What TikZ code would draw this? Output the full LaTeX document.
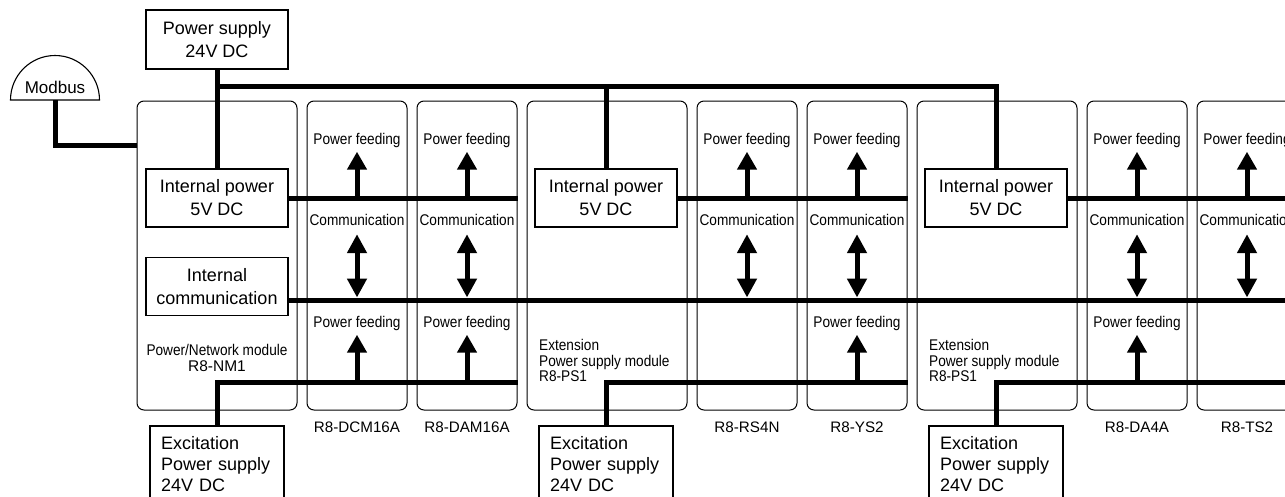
\documentclass[tikz,border=0pt]{standalone}
\usepackage{fontspec}
\setmainfont{Liberation Sans}
\newfontfamily\narrowfont[FakeStretch=0.88]{Liberation Sans}
\usetikzlibrary{arrows.meta}

\begin{document}
\begin{tikzpicture}[x=1pt, y=-1pt]
\tikzset{ModuleStyle/.style = {draw, rounded corners=7pt, line width=1pt, minimum height=309pt, inner sep=0pt},
  BoxStyle/.style = {draw, line width=1.1pt, align=center, inner sep=0pt, font=\fontsize{18}{23}\selectfont},
  ExciteStyle/.style = {draw, line width=1.1pt, align=left, text width=112pt, inner xsep=11pt, minimum height=76pt, font=\fontsize{18}{21}\selectfont},
  BusStyle/.style = {line width=5pt},
  FeedStyle/.style = {line width=5pt, -{Triangle[width=19pt, length=18pt]}, shorten >=3pt},
  TalkStyle/.style = {line width=5pt, {Triangle[width=19pt, length=19pt]}-{Triangle[width=19pt, length=19pt]}, shorten <=4.5pt, shorten >=2.5pt},
  NoteStyle/.style = {inner sep=1.5pt, text height=11pt, text depth=3pt, font=\narrowfont\fontsize{15.5}{16}\selectfont},
  TagStyle/.style = {inner sep=0pt, font=\fontsize{15.2}{18}\selectfont}
}
   \useasboundingbox (0,0) rectangle (1285,496);

   % Modules
   \node[ModuleStyle, minimum width=160pt] (nm1) at (217,255.5) {};
   \node[ModuleStyle, minimum width=100pt] (dcm) at (357,255.5) {};
   \node[ModuleStyle, minimum width=100pt] (dam) at (467,255.5) {};
   \node[ModuleStyle, minimum width=160pt] (psa) at (607,255.5) {};
   \node[ModuleStyle, minimum width=100pt] (rsn) at (747,255.5) {};
   \node[ModuleStyle, minimum width=100pt] (ysb) at (857,255.5) {};
   \node[ModuleStyle, minimum width=160pt] (psb) at (997,255.5) {};
   \node[ModuleStyle, minimum width=100pt] (dac) at (1137,255.5) {};
   \node[ModuleStyle, minimum width=100pt] (tsc) at (1247,255.5) {};

   \node[TagStyle] (dcmtag) at (357,427) {R8-DCM16A};
   \node[TagStyle] (damtag) at (467,427) {R8-DAM16A};
   \node[TagStyle] (rsntag) at (747,427) {R8-RS4N};
   \node[TagStyle] (ysbtag) at (857,427) {R8-YS2};
   \node[TagStyle] (dactag) at (1137,427) {R8-DA4A};
   \node[TagStyle] (tsctag) at (1247,427) {R8-TS2};

   \node[TagStyle, align=center, font=\fontsize{15.5}{16.5}\selectfont] (nm1txt) at (217,358) {{\narrowfont Power/Network module}\\R8-NM1};
   \node[TagStyle, anchor=west, align=left, font=\narrowfont\fontsize{15.5}{15.5}\selectfont] (psatxt) at (539,360.5) {Extension\\Power supply module\\R8-PS1};
   \node[TagStyle, anchor=west, align=left, font=\narrowfont\fontsize{15.5}{15.5}\selectfont] (psbtxt) at (929,360.5) {Extension\\Power supply module\\R8-PS1};

   % Boxes
   \node[BoxStyle, minimum width=142pt, minimum height=59pt] (psu) at (217,39.5) {Power supply\\24V DC};
   \node[BoxStyle, minimum width=142pt, minimum height=58pt] (ipw1) at (217,198) {Internal power\\5V DC};
   \node[BoxStyle, minimum width=142pt, minimum height=58pt] (icom) at (217,286.5) {Internal\\communication};
   \node[BoxStyle, minimum width=142pt, minimum height=58pt] (ipw2) at (606,198) {Internal power\\5V DC};
   \node[BoxStyle, minimum width=142pt, minimum height=58pt] (ipw3) at (996,198) {Internal power\\5V DC};

   \node[ExciteStyle] (exc1) at (217,464) {Excitation\\Power supply\\24V DC};
   \node[ExciteStyle] (exc2) at (606,464) {Excitation\\Power supply\\24V DC};
   \node[ExciteStyle] (exc3) at (996,464) {Excitation\\Power supply\\24V DC};

   % Modbus
   \coordinate (mbase) at (55,100);
   \draw[line width=1.1pt] (99.5,100) arc[start angle=0, end angle=180, radius=44.5pt] -- cycle;
   \node[inner sep=0pt, font=\fontsize{17}{20}\selectfont] (modbus) at (55,87) {Modbus};
   \coordinate (mbin) at (nm1.west |- 0,145);
   \draw[BusStyle] (mbase) |- (mbin);

   % Lines
   \coordinate (topbus) at (0,86);
   \coordinate (combus) at (icom.east |- 0,300);
   \coordinate (exbus) at (0,382);
   \coordinate (farright) at (1295,0);
   \draw[BusStyle] (psu.south) -- (ipw1.north);
   \draw[BusStyle] (psu.south |- topbus) -| (ipw3.north);
   \draw[BusStyle] (ipw2.north |- topbus) -- (ipw2.north);

   \draw[BusStyle] (ipw1.east) -- (ipw1.east -| dam.east);
   \draw[BusStyle] (ipw2.east) -- (ipw2.east -| ysb.east);
   \draw[BusStyle] (ipw3.east) -- (ipw3.east -| farright);
   \draw[BusStyle] (combus) -- (combus -| farright);
   \draw[BusStyle] (exc1.north) |- (exbus -| dam.east);
   \draw[BusStyle] (exc2.north) |- (exbus -| ysb.east);
   \draw[BusStyle] (exc3.north) |- (exbus -| farright);

   % Feeding and communication
   \node[NoteStyle] (dcmfa) at (357,140) {Power feeding};
   \node[NoteStyle] (dcmtalk) at (357,221) {Communication};
   \node[NoteStyle] (dcmfb) at (357,323) {Power feeding};
   \draw[FeedStyle] (dcmfa.south |- ipw1.east) -- (dcmfa.south);
   \draw[TalkStyle] (dcmtalk.south) -- (dcmtalk.south |- combus);
   \draw[FeedStyle] (dcmfb.south |- exbus) -- (dcmfb.south);

   \node[NoteStyle] (damfa) at (467,140) {Power feeding};
   \node[NoteStyle] (damtalk) at (467,221) {Communication};
   \node[NoteStyle] (damfb) at (467,323) {Power feeding};
   \draw[FeedStyle] (damfa.south |- ipw1.east) -- (damfa.south);
   \draw[TalkStyle] (damtalk.south) -- (damtalk.south |- combus);
   \draw[FeedStyle] (damfb.south |- exbus) -- (damfb.south);

   \node[NoteStyle] (rsnfa) at (747,140) {Power feeding};
   \node[NoteStyle] (rsntalk) at (747,221) {Communication};
   \draw[FeedStyle] (rsnfa.south |- ipw2.east) -- (rsnfa.south);
   \draw[TalkStyle] (rsntalk.south) -- (rsntalk.south |- combus);

   \node[NoteStyle] (ysbfa) at (857,140) {Power feeding};
   \node[NoteStyle] (ysbtalk) at (857,221) {Communication};
   \node[NoteStyle] (ysbfb) at (857,323) {Power feeding};
   \draw[FeedStyle] (ysbfa.south |- ipw2.east) -- (ysbfa.south);
   \draw[TalkStyle] (ysbtalk.south) -- (ysbtalk.south |- combus);
   \draw[FeedStyle] (ysbfb.south |- exbus) -- (ysbfb.south);

   \node[NoteStyle] (dacfa) at (1137,140) {Power feeding};
   \node[NoteStyle] (dactalk) at (1137,221) {Communication};
   \node[NoteStyle] (dacfb) at (1137,323) {Power feeding};
   \draw[FeedStyle] (dacfa.south |- ipw3.east) -- (dacfa.south);
   \draw[TalkStyle] (dactalk.south) -- (dactalk.south |- combus);
   \draw[FeedStyle] (dacfb.south |- exbus) -- (dacfb.south);

   \node[NoteStyle] (tscfa) at (1247,140) {Power feeding};
   \node[NoteStyle] (tsctalk) at (1247,221) {Communication};
   \draw[FeedStyle] (tscfa.south |- ipw3.east) -- (tscfa.south);
   \draw[TalkStyle] (tsctalk.south) -- (tsctalk.south |- combus);
\end{tikzpicture}
\end{document}
